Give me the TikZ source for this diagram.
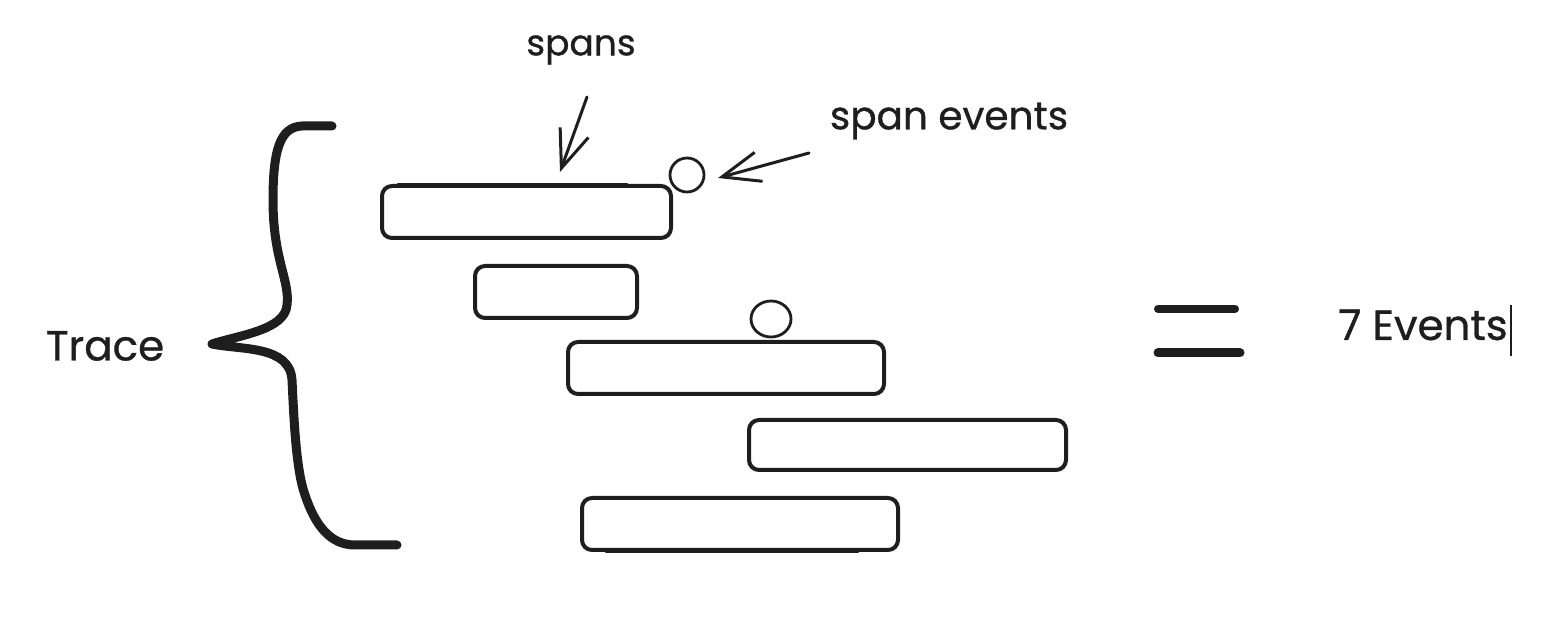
\documentclass[tikz,border=0pt]{standalone}
\usepackage{fontspec}
\setmainfont{Poppins}[FakeBold=0.8]
\usetikzlibrary{arrows.meta,shapes.geometric}
\definecolor{ink}{HTML}{1E1E1E}
\tikzset{
  spanbox/.style={draw=ink, line width=2pt, rounded corners=5pt, inner sep=0pt, outer sep=0pt, minimum height=26pt},
  evt/.style={draw=ink, line width=1.4pt, ellipse, inner sep=0pt},
  lbl/.style={text=ink, inner sep=0pt},
  pointer/.style={draw=ink, line width=1.5pt, line cap=round, -{Straight Barb[length=19pt,width=15pt,line width=1.5pt]}},
  bracestroke/.style={draw=ink, line width=4.5pt, line cap=round, line join=round},
  eqbar/.style={draw=ink, line width=4pt, line cap=round},
  thickedge/.style={draw=ink, line width=1.6pt, line cap=round}
}
\begin{document}
\begin{tikzpicture}[x=0.5pt, y=-0.5pt]
\useasboundingbox (0,0) rectangle (1552,624);
% spans
\node[spanbox, minimum width=144.5pt] (b1) at (526.5,212) {};
\node[spanbox, minimum width=81pt] (b2) at (556,292) {};
\node[spanbox, minimum width=158pt] (b3) at (726,368) {};
\node[spanbox, minimum width=158.5pt, minimum height=25pt] (b4) at (907.5,445) {};
\node[spanbox, minimum width=158pt] (b5) at (740,524) {};
% extra hand-drawn strokes
\draw[thickedge] ([xshift=8pt,yshift=0.8pt]b1.north west) -- ([xshift=-22pt,yshift=0.8pt]b1.north east);
\draw[thickedge] ([xshift=12pt,yshift=-0.8pt]b5.south west) -- ([xshift=-20pt,yshift=-0.8pt]b5.south east);
% span events
\node[evt, minimum width=17pt, minimum height=17pt] (e1) at (687,175) {};
\node[evt, minimum width=20pt, minimum height=18pt] (e2) at (771,319) {};
% labels
\node[lbl, font=\fontsize{18}{20}\selectfont] (spans) at (581,50) {spans};
\node[lbl, font=\fontsize{19.5}{22}\selectfont] (spev) at (949,121) {span events};
\node[lbl, font=\fontsize{21}{24}\selectfont] (trace) at (105,346) {Trace};
\node[lbl, font=\fontsize{21}{24}\selectfont] (seven) at (1423,325) {7 Events};
\coordinate (caret1) at (1511,305);
\coordinate (caret2) at (1511,356);
\draw[ink, line width=0.6pt] (caret1) -- (caret2);
% pointers
\coordinate (s0) at (587,97);
\coordinate (s1) at (560,172);
\draw[pointer] (s0) -- (s1);
\coordinate (v0) at (809,153);
\coordinate (v1) at (718,178);
\draw[pointer] (v0) -- (v1);
% brace
\coordinate (brtop) at (332,126);
\coordinate (brtip) at (212,344);
\coordinate (brbot) at (397,545);
\draw[bracestroke] (brtop) -- (302,126) .. controls (280,127) and (273,150) .. (273,200)
  .. controls (273,260) and (290,280) .. (287,305)
  .. controls (285,330) and (240,335) .. (brtip)
  .. controls (240,350) and (290,345) .. (292,380)
  .. controls (294,420) and (296,470) .. (305,495)
  .. controls (315,525) and (330,545) .. (355,545) -- (brbot);
% equals
\coordinate (q1a) at (1158,309);
\coordinate (q1b) at (1235,309);
\coordinate (q2a) at (1158,353);
\coordinate (q2b) at (1240,353);
\draw[eqbar] (q1a) -- (q1b);
\draw[eqbar, line width=4.5pt] (q2a) -- (q2b);
\end{tikzpicture}
\end{document}
